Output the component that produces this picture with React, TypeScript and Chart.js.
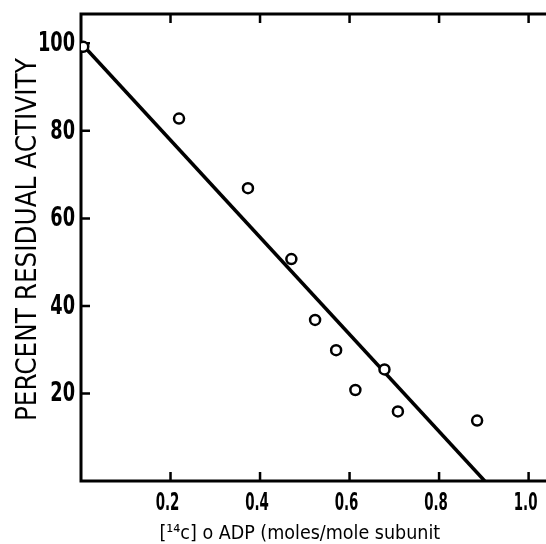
import { useEffect, useRef } from "react";
import { Chart, registerables } from "chart.js";

Chart.register(...registerables);

const X_VALUES = [0.005, 0.219, 0.373, 0.47, 0.523, 0.57, 0.613, 0.678, 0.708, 0.885];
const Y_VALUES = [99.2, 82.8, 66.9, 50.7, 36.8, 29.9, 20.8, 25.5, 15.9, 13.8];
const FIT_X = [0.005, 0.902];
const FIT_Y = [99.5, 0];
const X_TICKS = [0.2, 0.4, 0.6, 0.8, 1.0];
const Y_TICKS = [20, 40, 60, 80, 100];
const X_TICK_LABELS = ["0.2", "0.4", "0.6", "0.8", "1.0"];
const Y_TICK_LABELS = ["20", "40", "60", "80", "100"];
const X_TITLE = "[¹⁴c] o ADP (moles/mole subunit\u00a0\u00a0\u00a0\u00a0\u00a0";
const Y_TITLE = "\u00a0\u00a0PERCENT RESIDUAL ACTIVITY";

const FONT = "'DejaVu Sans Condensed', 'DejaVu Sans', sans-serif";
const VIEW_W = 546;
const VIEW_H = 544;

const framePlugin = {
  id: "frame",
  beforeDatasetsDraw(chart: any) {
    const { ctx, chartArea, scales } = chart;
    const { left, right, top, bottom } = chartArea;
    ctx.save();
    ctx.strokeStyle = "#000";
    ctx.lineCap = "butt";
    ctx.lineWidth = 3;
    ctx.beginPath();
    ctx.moveTo(left - 1.5, top);
    ctx.lineTo(right, top);
    ctx.moveTo(left, top);
    ctx.lineTo(left, bottom + 1.5);
    ctx.moveTo(left - 1.5, bottom);
    ctx.lineTo(right, bottom);
    ctx.stroke();
    ctx.lineWidth = 2.5;
    ctx.beginPath();
    X_TICKS.forEach((v) => {
      const px = scales.x.getPixelForValue(v);
      ctx.moveTo(px, bottom);
      ctx.lineTo(px, bottom - 9);
      ctx.moveTo(px, top);
      ctx.lineTo(px, top + 9);
    });
    Y_TICKS.forEach((v) => {
      const py = scales.y.getPixelForValue(v);
      ctx.moveTo(left, py);
      ctx.lineTo(left + 9, py);
    });
    ctx.stroke();
    ctx.restore();
  },
  afterDraw(chart: any) {
    const { ctx, chartArea, scales } = chart;
    const { left, bottom } = chartArea;
    ctx.save();
    ctx.fillStyle = "#000";
    ctx.textBaseline = "middle";
    ctx.font = `bold 24px ${FONT}`;
    ctx.textAlign = "center";
    X_TICKS.forEach((v, i) => {
      const px = scales.x.getPixelForValue(v);
      ctx.save();
      ctx.translate(px - 3, bottom + 22.5);
      ctx.scale(0.62, 1);
      ctx.fillText(X_TICK_LABELS[i], 0, 0);
      ctx.restore();
    });
    ctx.font = `bold 26px ${FONT}`;
    ctx.textAlign = "right";
    Y_TICKS.forEach((v, i) => {
      const py = scales.y.getPixelForValue(v);
      ctx.save();
      ctx.translate(left - 6, py + 1);
      ctx.scale(0.76, 1);
      ctx.fillText(Y_TICK_LABELS[i], 0, 0);
      ctx.restore();
    });
    ctx.restore();
  },
};

export default function App() {
  const ref = useRef<HTMLCanvasElement | null>(null);
  useEffect(() => {
    if (!ref.current) return;
    const chart = new Chart(ref.current, {
      type: "scatter",
      data: {
        datasets: [
          {
            type: "scatter",
            data: X_VALUES.map((x, i) => ({ x, y: Y_VALUES[i] })),
            pointStyle: "circle",
            pointRadius: 5,
            pointBorderWidth: 2.5,
            pointBackgroundColor: "#fff",
            pointBorderColor: "#000",
            order: 0,
          },
          {
            type: "line",
            data: FIT_X.map((x, i) => ({ x, y: FIT_Y[i] })),
            borderColor: "#000",
            borderWidth: 3.5,
            pointRadius: 0,
            fill: false,
            order: 1,
          },
        ],
      } as any,
      options: {
        responsive: false,
        maintainAspectRatio: false,
        animation: false,
        devicePixelRatio: 1,
        layout: { padding: { top: 14, left: 0, right: 0, bottom: 0 } },
        plugins: { legend: { display: false }, tooltip: { enabled: false } },
        scales: {
          x: {
            type: "linear",
            min: 0,
            max: 1.04,
            afterBuildTicks: (s: any) => {
              s.ticks = X_TICKS.map((value) => ({ value }));
            },
            afterFit: (s: any) => {
              s.height = 63;
            },
            ticks: { display: false },
            grid: { display: false, drawTicks: false },
            border: { display: false },
            title: {
              display: true,
              text: X_TITLE,
              color: "#000",
              padding: 0,
              font: { family: FONT, size: 19.5, lineHeight: 1 },
            },
          },
          y: {
            type: "linear",
            min: 0,
            max: 106.7,
            afterBuildTicks: (s: any) => {
              s.ticks = Y_TICKS.map((value) => ({ value }));
            },
            afterFit: (s: any) => {
              s.width = 81;
            },
            ticks: { display: false },
            grid: { display: false, drawTicks: false },
            border: { display: false },
            title: {
              display: true,
              text: Y_TITLE,
              color: "#000",
              padding: { top: 12, bottom: 0 },
              font: { family: FONT, size: 27.5, lineHeight: 1.2 },
            },
          },
        },
      } as any,
      plugins: [framePlugin],
    });
    // widen the canvas until the plot area reaches the right edge of the view
    for (let k = 0; k < 4; k++) {
      const d = VIEW_W - chart.chartArea.right;
      if (Math.abs(d) < 0.5) break;
      const w = Math.round(chart.width + d);
      chart.resize(w, VIEW_H);
      chart.update();
    }
    return () => chart.destroy();
  }, []);
  return (
    <div style={{ position: "absolute", left: 0, top: 0, width: VIEW_W, height: VIEW_H, overflow: "hidden", background: "#fff" }}>
      <div style={{ width: 640, height: VIEW_H }}>
        <canvas ref={ref} width={VIEW_W} height={VIEW_H} />
      </div>
    </div>
  );
}
